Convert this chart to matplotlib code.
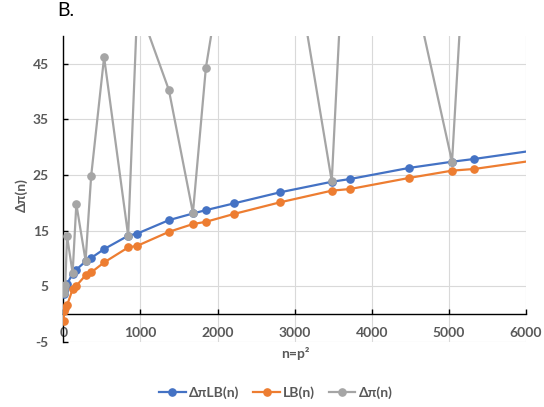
import matplotlib
matplotlib.use("Agg")
import matplotlib.pyplot as plt
from matplotlib.lines import Line2D

plt.rcParams['font.family'] = ['Lato', 'DejaVu Sans']
plt.rcParams['axes.unicode_minus'] = False

# n = p^2 for consecutive primes
n_vals = [4, 9, 25, 49, 121, 169, 289, 361, 529, 841, 961, 1369, 1681, 1849,
          2209, 2809, 3481, 3721, 4489, 5041, 5329, 6241]
dpi_lb = [3.6, 4.1, 4.7, 5.4, 7.3, 8.0, 9.5, 10.1, 11.7, 14.1, 14.5, 16.9, 18.1, 18.7,
          19.9, 21.9, 23.8, 24.3, 26.3, 27.4, 27.9, 29.7]
lb = [-1.2, 0.5, 1.1, 1.6, 4.5, 5.1, 7.0, 7.5, 9.3, 12.0, 12.3, 14.8, 16.2, 16.6,
      18.0, 20.1, 22.2, 22.5, 24.5, 25.8, 26.1, 27.9]
dpi = [3.8, 4.5, 5.2, 14.0, 7.4, 19.8, 9.6, 24.8, 46.2, 14.1, 56.0, 40.3, 18.2, 44.3,
       75.0, 80.0, 23.9, 90.0, 62.0, 27.4, 96.0, 74.0]

series_names = ['ΔπLB(n)', 'LB(n)', 'Δπ(n)']
colors = ['#4472C4', '#ED7D31', '#A5A5A5']
x_ticks = [0, 1000, 2000, 3000, 4000, 5000, 6000]
y_ticks = [-5, 5, 15, 25, 35, 45]

txt = '#595959'
fs = 10
fig = plt.figure(figsize=(5.44, 4.07), dpi=100)
ax = fig.add_axes([63.3 / 544, 1 - 342 / 407, (526 - 63.3) / 544, (342 - 36) / 407])

for yv, c, name in zip([dpi_lb, lb, dpi], colors, series_names):
    ax.plot(n_vals, yv, color=c, lw=1.6, marker='o', ms=5.2, mec=c, mfc=c,
            label=name, zorder=3)

ax.set_xlim(0, 6000)
ax.set_ylim(-5, 50)
ax.set_xticks(x_ticks)
ax.set_yticks(y_ticks)
ax.grid(True, color='#D9D9D9', lw=0.8, zorder=0)
ax.set_axisbelow(True)

for s in ['top', 'right']:
    ax.spines[s].set_visible(False)
ax.spines['bottom'].set_position(('data', 0))
ax.spines['bottom'].set_color('black')
ax.spines['left'].set_color('black')
ax.spines['bottom'].set_linewidth(1.0)
ax.spines['left'].set_linewidth(1.0)

ax.tick_params(axis='y', direction='in', length=3.5, width=1, pad=10.5,
               labelsize=fs, labelcolor=txt)
ax.tick_params(axis='x', direction='in', length=3.5, width=1, pad=9.5,
               labelsize=fs, labelcolor=txt)
for lab in ax.get_xticklabels() + ax.get_yticklabels():
    lab.set_fontweight('bold')

fig.text(295 / 544, 1 - 354 / 407, 'n=p²', ha='center', va='center',
         fontsize=fs, fontweight='bold', color=txt)
fig.text(22 / 544, 1 - 195 / 407, 'Δπ(n)', ha='center', va='center',
         rotation=90, fontsize=fs, fontweight='bold', color=txt)
fig.text(57 / 544, 1 - 10 / 407, 'B.', ha='left', va='center', fontsize=14,
         color='black')

handles = [Line2D([0], [0], color=c, lw=1.6, marker='o', ms=5.2) for c in colors]
fig.legend(handles, series_names, loc='center', bbox_to_anchor=(276 / 544, 1 - 393 / 407),
           ncol=3, frameon=False, handlelength=1.9, handletextpad=0.25,
           columnspacing=1.0, prop={'size': fs, 'weight': 'bold'}, labelcolor=txt)

fig.savefig('out.png', dpi=100)
